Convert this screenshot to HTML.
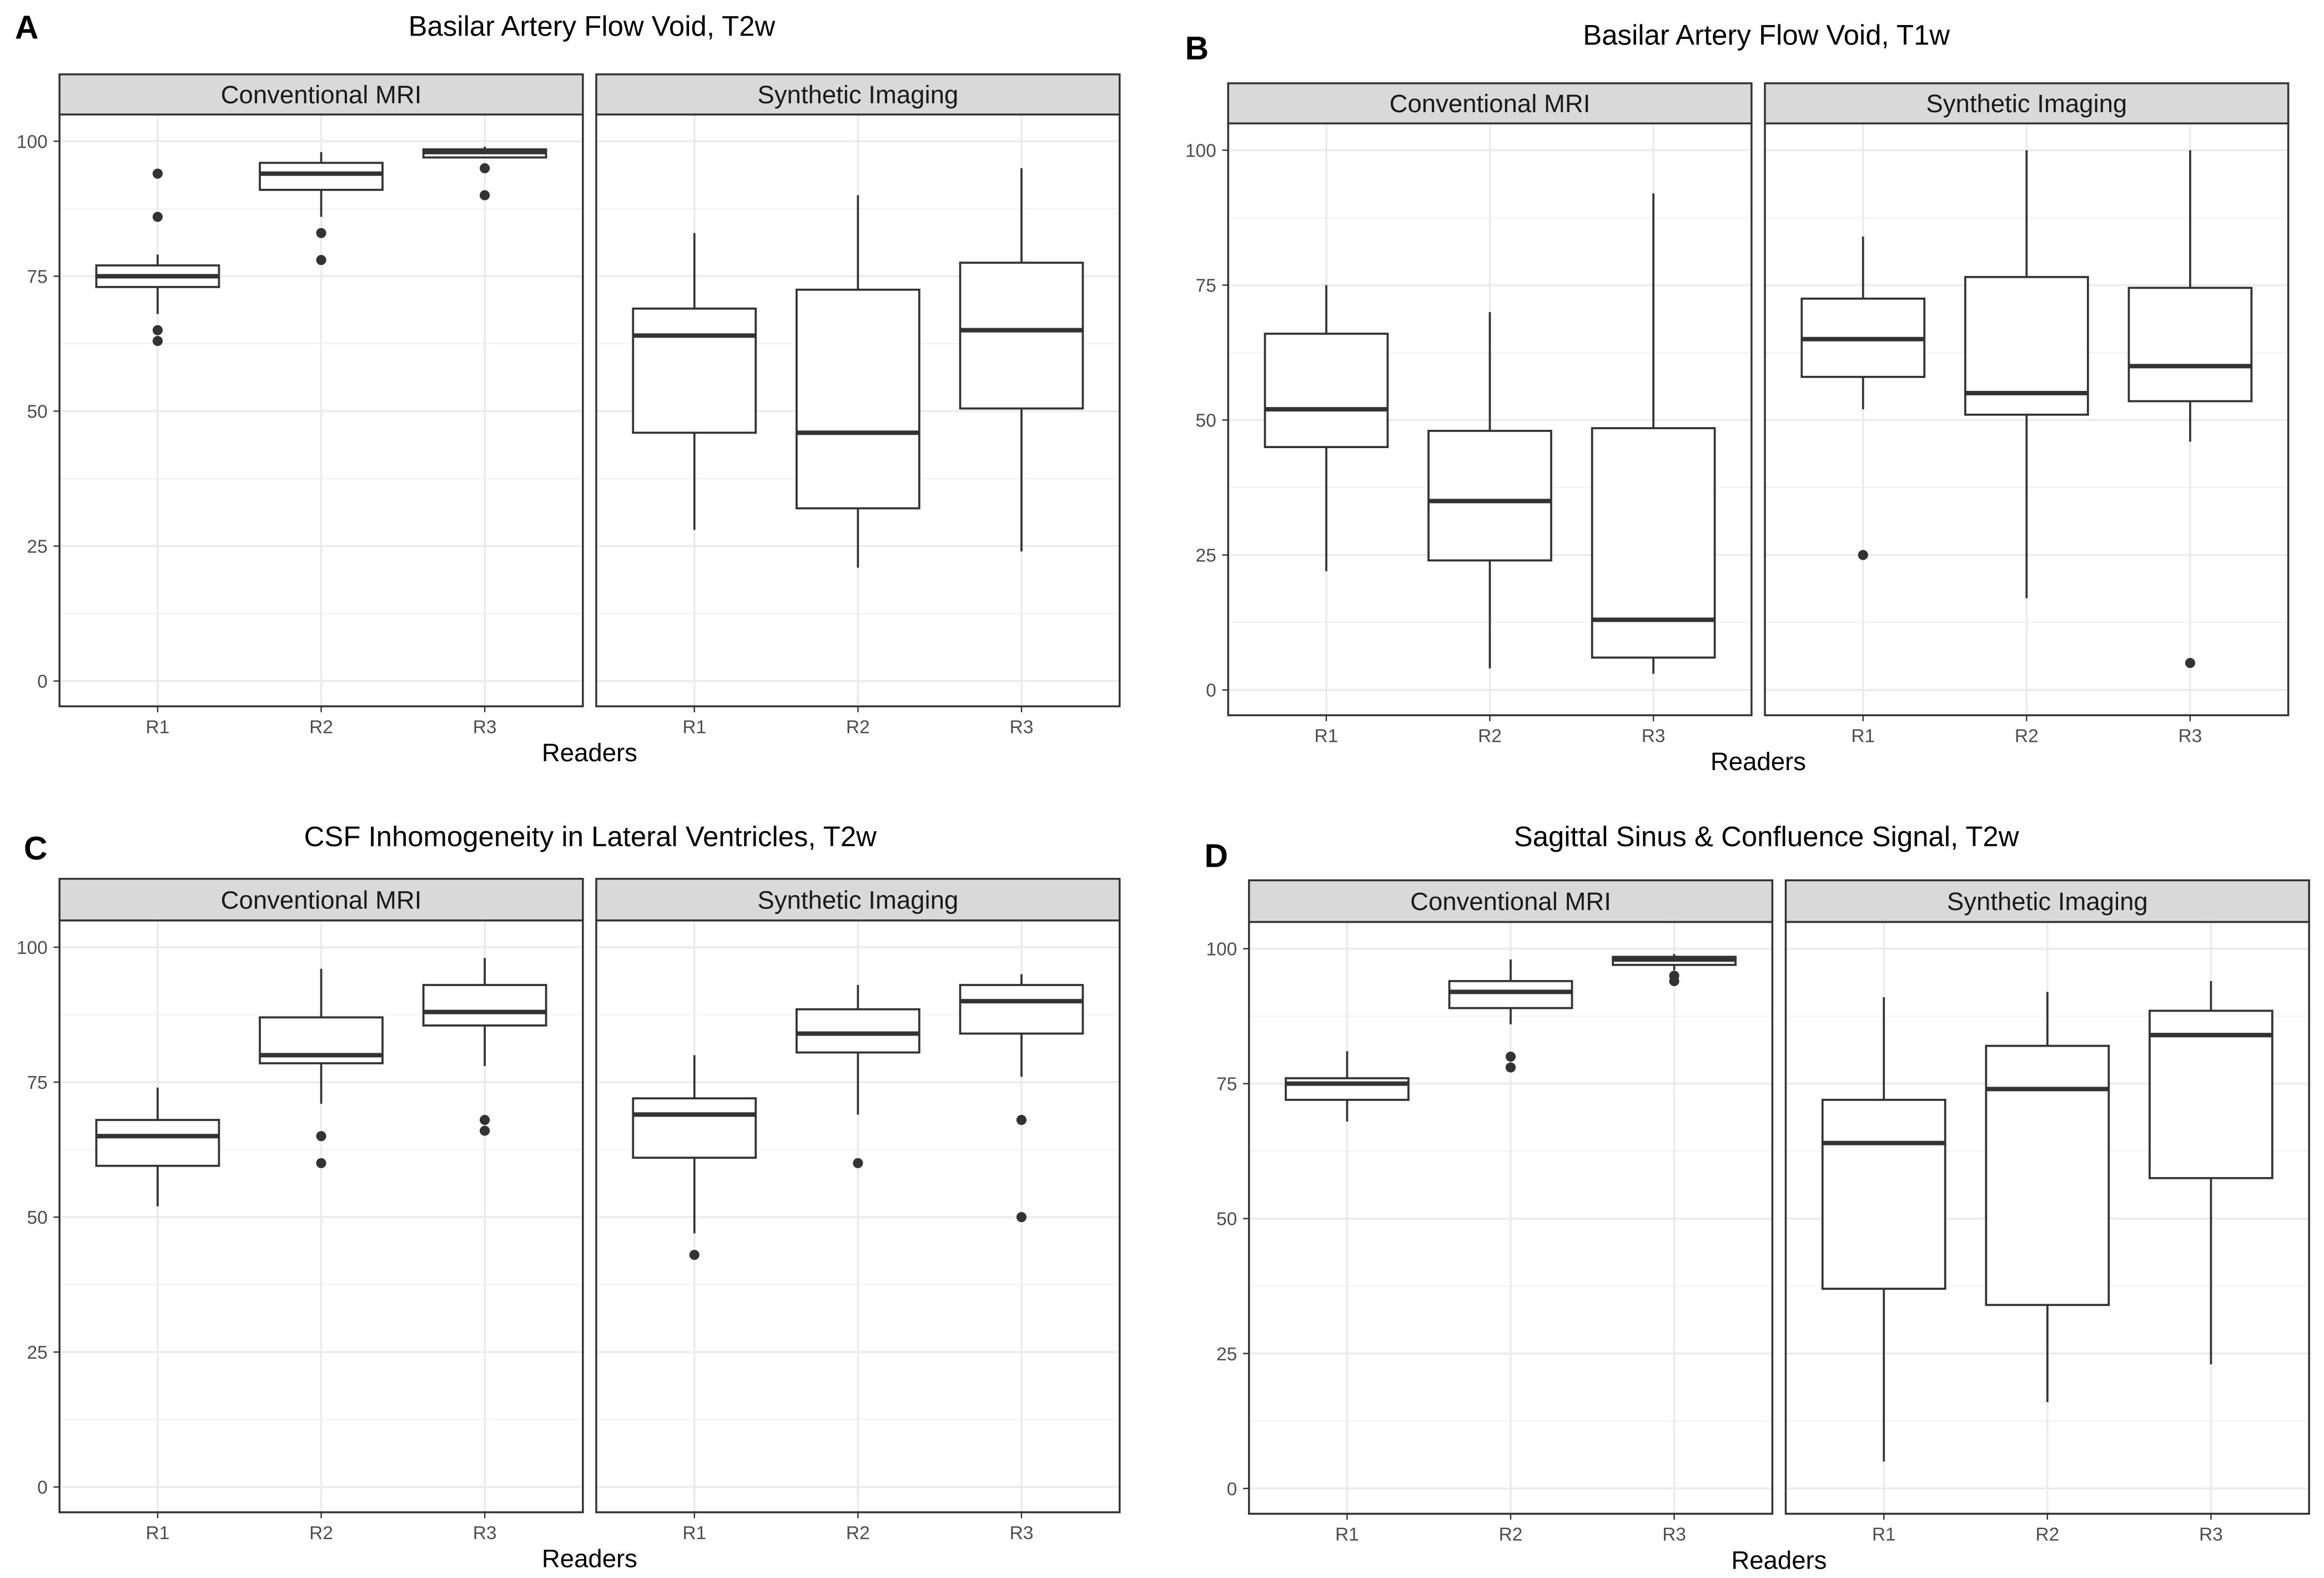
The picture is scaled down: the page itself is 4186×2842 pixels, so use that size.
<!DOCTYPE html>
<html><head><meta charset="utf-8"><style>
html,body{margin:0;padding:0;background:#fff;}
svg{display:block;}
text{font-family:"Liberation Sans",sans-serif;}
</style></head><body>
<svg id="fig" xmlns="http://www.w3.org/2000/svg" width="4186" height="2842" viewBox="0 0 1563 1061.2"></svg>
<script>
// ---- data ----
const readers = ["R1","R2","R3"];
const facets = ["Conventional MRI","Synthetic Imaging"];
const yTicks = [0,25,50,75,100];
const panelTitles = ["Basilar Artery Flow Void, T2w","Basilar Artery Flow Void, T1w","CSF Inhomogeneity in Lateral Ventricles, T2w","Sagittal Sinus & Confluence Signal, T2w"];
const panelLetters = ["A","B","C","D"];
// each box: [whiskerLow, q1, median, q3, whiskerHigh]
const boxesA_conv = [[68,73,75,77,79],[86,91,94,96,98],[97,97,98,98.5,99]];
const boxesA_syn  = [[28,46,64,69,83],[21,32,46,72.5,90],[24,50.5,65,77.5,95]];
const outliersA_conv = [[94,86,65,63],[83,78],[95,90]];
const outliersA_syn  = [[],[],[]];
const boxesB_conv = [[22,45,52,66,75],[4,24,35,48,70],[3,6,13,48.5,92]];
const boxesB_syn  = [[52,58,65,72.5,84],[17,51,55,76.5,100],[46,53.5,60,74.5,100]];
const outliersB_conv = [[],[],[]];
const outliersB_syn  = [[25],[],[5]];
const boxesC_conv = [[52,59.5,65,68,74],[71,78.5,80,87,96],[78,85.5,88,93,98]];
const boxesC_syn  = [[47,61,69,72,80],[69,80.5,84,88.5,93],[76,84,90,93,95]];
const outliersC_conv = [[],[65,60],[68,66]];
const outliersC_syn  = [[43],[60],[68,50]];
const boxesD_conv = [[68,72,75,76,81],[86,89,92,94,98],[96,97,98,98.5,99]];
const boxesD_syn  = [[5,37,64,72,91],[16,34,74,82,92],[23,57.5,84,88.5,94]];
const outliersD_conv = [[],[80,78],[95,94]];
const outliersD_syn  = [[],[],[]];

// ---- layout ----
const layouts = [
 {fx:[40,401], fw:352, st:50, sb:77, pb:475, y100:95, y0:458, ttlx:398, ttly:24, lx:10, ly:26},
 {fx:[826,1187], fw:352, st:56, sb:83, pb:481, y100:101, y0:464, ttlx:1188, ttly:30, lx:797, ly:40},
 {fx:[40,401], fw:352, st:591, sb:619, pb:1017, y100:637, y0:1000, ttlx:397, ttly:569, lx:16, ly:578},
 {fx:[840,1201], fw:352, st:592, sb:620, pb:1018, y100:638, y0:1001, ttlx:1188, ttly:569, lx:810, ly:583}
];
const panelBoxes = [[boxesA_conv,boxesA_syn],[boxesB_conv,boxesB_syn],[boxesC_conv,boxesC_syn],[boxesD_conv,boxesD_syn]];
const panelOut = [[outliersA_conv,outliersA_syn],[outliersB_conv,outliersB_syn],[outliersC_conv,outliersC_syn],[outliersD_conv,outliersD_syn]];

const NS="http://www.w3.org/2000/svg";
const svg=document.getElementById('fig');
function mk(tag,attrs,parent){const e=document.createElementNS(NS,tag);for(const k in attrs)e.setAttribute(k,attrs[k]);(parent||svg).appendChild(e);return e;}

layouts.forEach((L,pi)=>{
  const g=mk('g',{});
  
  
  const yS=v=>L.y0+(L.y100-L.y0)*v/100;
  const t=mk('text',{x:L.ttlx,y:L.ttly,'text-anchor':'middle','font-size':19,fill:'#000'},g);
  t.textContent=panelTitles[pi];
  
  
  const lt=mk('text',{x:L.lx,y:L.ly,'font-size':22,'font-weight':'bold',fill:'#000'},g);
  lt.textContent=panelLetters[pi];
  
  
  yTicks.forEach(v=>{
    const tt=mk('text',{x:L.fx[0]-8,y:yS(v)+4.5,'text-anchor':'end','font-size':12.5,fill:'#4d4d4d'},g);
    tt.textContent=v;
    
    
    mk('line',{x1:L.fx[0]-4,x2:L.fx[0],y1:yS(v),y2:yS(v),stroke:'#333','stroke-width':0.9},g);
  });
  const xl=mk('text',{x:(L.fx[0]+L.fx[1]+L.fw)/2,y:L.pb+37,'text-anchor':'middle','font-size':17,fill:'#000'},g);
  xl.textContent='Readers';
  
  
  facets.forEach((f,fi)=>{
    const x0=L.fx[fi], w=L.fw;
    const step=w/3.2;
    const xS=i=>x0+step*(0.6+i);
    for(let v=12.5;v<=100;v+=25){mk('line',{x1:x0,x2:x0+w,y1:yS(v),y2:yS(v),stroke:'#f0f0f0','stroke-width':0.7},g);}
    yTicks.forEach(v=>mk('line',{x1:x0,x2:x0+w,y1:yS(v),y2:yS(v),stroke:'#ebebeb','stroke-width':1.3},g));
    readers.forEach((r,i)=>{
      mk('line',{x1:xS(i),x2:xS(i),y1:L.sb,y2:L.pb,stroke:'#ebebeb','stroke-width':1.3},g);
      mk('line',{x1:xS(i),x2:xS(i),y1:L.pb,y2:L.pb+4,stroke:'#333','stroke-width':0.9},g);
      const xt=mk('text',{x:xS(i),y:L.pb+18,'text-anchor':'middle','font-size':12.5,fill:'#4d4d4d'},g);
      xt.textContent=r;
      
      
    });
    const bw=step*0.75;
    panelBoxes[pi][fi].forEach((b,i)=>{
      const cx=xS(i);
      const bg=mk('g',{},g);
      
      
      mk('line',{x1:cx,x2:cx,y1:yS(b[0]),y2:yS(b[1]),stroke:'#333','stroke-width':1.4},bg);
      mk('line',{x1:cx,x2:cx,y1:yS(b[3]),y2:yS(b[4]),stroke:'#333','stroke-width':1.4},bg);
      mk('rect',{x:cx-bw/2,y:yS(b[3]),width:bw,height:yS(b[1])-yS(b[3]),fill:'#fff',stroke:'#333','stroke-width':1.4},bg);
      mk('line',{x1:cx-bw/2,x2:cx+bw/2,y1:yS(b[2]),y2:yS(b[2]),stroke:'#333','stroke-width':3},bg);
      panelOut[pi][fi][i].forEach(o=>{
        const c=mk('circle',{cx:cx,cy:yS(o),r:3.4,fill:'#333'},bg);
        
        
      });
    });
    mk('rect',{x:x0,y:L.sb,width:w,height:L.pb-L.sb,fill:'none',stroke:'#333','stroke-width':1.3},g);
    const s=mk('rect',{x:x0,y:L.st,width:w,height:L.sb-L.st,fill:'#d9d9d9',stroke:'#333','stroke-width':1.3},g);
    
    
    const st=mk('text',{x:x0+w/2,y:(L.st+L.sb)/2+6,'text-anchor':'middle','font-size':17,fill:'#1a1a1a'},g);
    st.textContent=f;
    
    
  });
});
</script>
</body></html>
